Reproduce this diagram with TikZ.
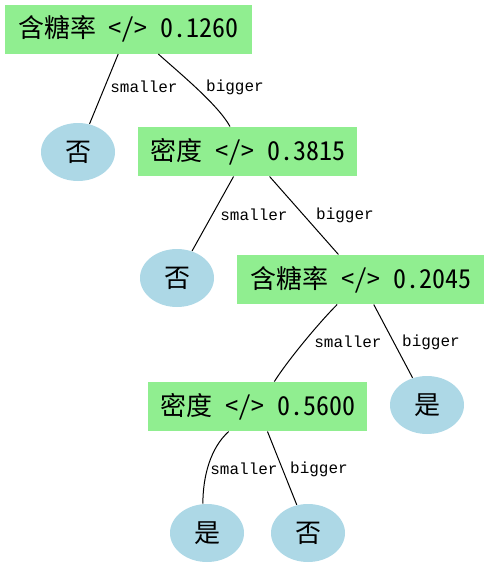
\documentclass[tikz,border=0pt]{standalone}
\usepackage{fontspec}
\usepackage{tikz}
\usetikzlibrary{shapes.geometric}

\newfontfamily\cjk[RawFeature=+hwid]{Noto Sans CJK SC}
\newfontfamily\lblfont{Liberation Mono}
\definecolor{lightgreen}{HTML}{90EE90}
\definecolor{lightblue}{HTML}{ADD8E6}

\tikzset{
	test/.style={rectangle, fill=lightgreen, minimum height=36.75pt, inner sep=0pt, font=\cjk\fontsize{19.5}{20}\selectfont},
	leaf/.style={ellipse, fill=lightblue, minimum width=55.5pt, minimum height=43.5pt, inner sep=0pt, font=\cjk\fontsize{19.5}{20}\selectfont},
	lbl/.style={inner sep=0pt, font=\lblfont\fontsize{12}{12}\selectfont}
}

\begin{document}
\begin{tikzpicture}[x=0.75pt, y=-0.75pt, line width=0.75pt]

\useasboundingbox (0,0) rectangle (489,568);

\node[test, minimum width=185.25pt] (t1) at (128.5,29)  {含糖率 </> 0.1260};
\node[test, minimum width=164.25pt] (t2) at (247.5,151.5) {密度 </> 0.3815};
\node[test, minimum width=185.25pt] (t3) at (360.5,279.5) {含糖率 </> 0.2045};
\node[test, minimum width=164.25pt] (t4) at (257.5,406.5) {密度 </> 0.5600};

\node[leaf] (l1) at (78,152)  {否};
\node[leaf] (l2) at (177,278) {否};
\node[leaf] (l3) at (427,405) {是};
\node[leaf] (l4) at (207,533) {是};
\node[leaf] (l5) at (308,533) {否};

\draw (t1) -- (l1);
\draw (t1.-40) .. controls +(20,18) and +(-12,-22) .. (t2.125);
\draw (t2) -- (l2);
\draw (t2) -- (t3);
\draw (t3.227) .. controls +(-18,18) and +(14,-22) .. (t4.56);
\draw (t3) -- (l3);
\draw (t4.221) .. controls +(-18,16) and +(0,-28) .. (l4.98);
\draw (t4) -- (l5);

\node[lbl] (s1) at (144,87)  {smaller};
\node[lbl] (b1) at (235,87)  {bigger};
\node[lbl] (s2) at (254,215) {smaller};
\node[lbl] (b2) at (345,215) {bigger};
\node[lbl] (s3) at (348,342) {smaller};
\node[lbl] (b3) at (431,342) {bigger};
\node[lbl] (s4) at (244,469) {smaller};
\node[lbl] (b4) at (319,469) {bigger};

\end{tikzpicture}
\end{document}
